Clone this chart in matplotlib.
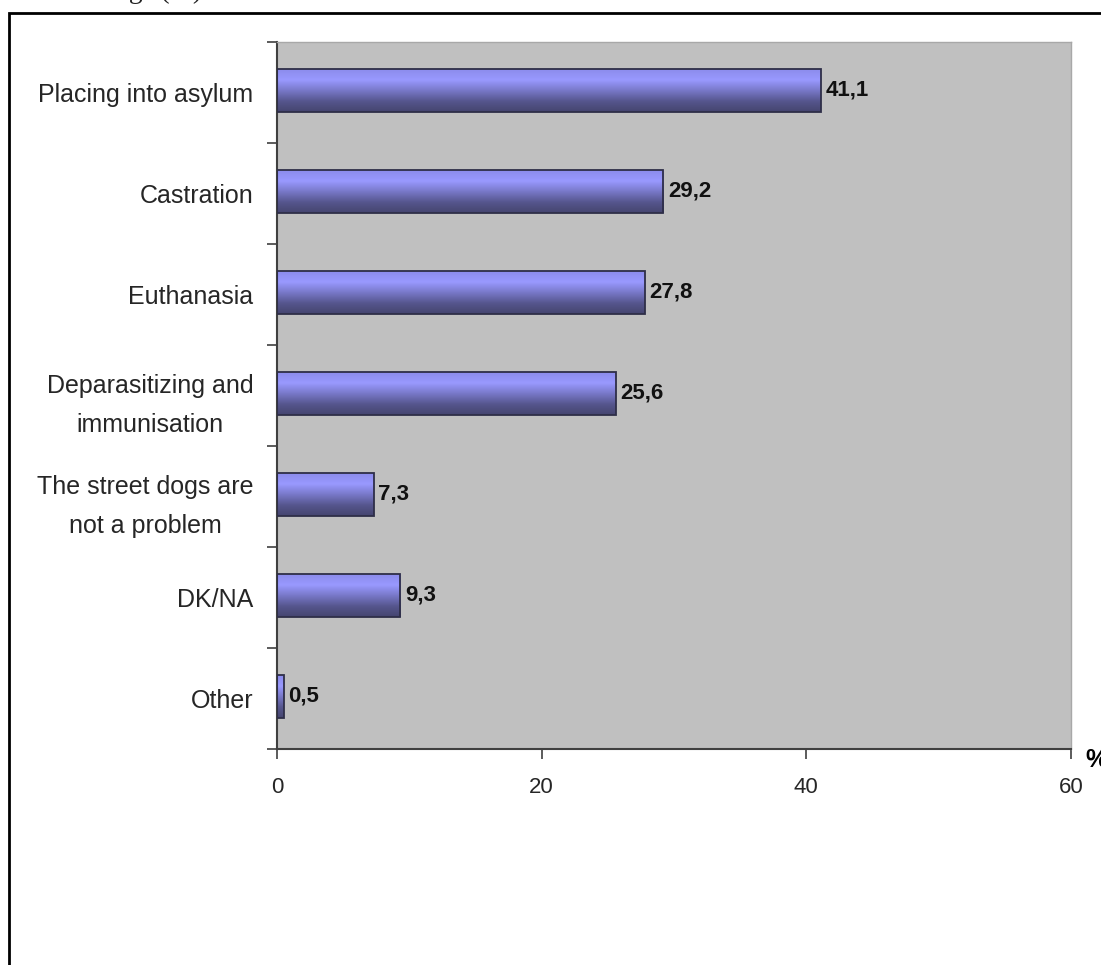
import matplotlib.pyplot as plt
import numpy as np
from matplotlib.colors import LinearSegmentedColormap
from matplotlib.patches import Rectangle

categories = ["Placing into asylum", "Castration", "Euthanasia",
              "Deparasitizing and\nimmunisation",
              "The street dogs are\nnot a problem", "DK/NA", "Other"]
values = [41.1, 29.2, 27.8, 25.6, 7.3, 9.3, 0.5]
value_labels = ["41,1", "29,2", "27,8", "25,6", "7,3", "9,3", "0,5"]
x_ticks = [0, 20, 40, 60]

W, H = 1101, 965
fig = plt.figure(figsize=(W / 100, H / 100), dpi=100)
plt.rcParams['font.family'] = ['Liberation Sans', 'DejaVu Sans']

# outer frame, runs off the right and bottom edges
fig.patches.append(Rectangle((9 / W, -0.1), 1.2, 1 - 13 / H + 0.1,
                             transform=fig.transFigure, fill=False,
                             edgecolor='black', linewidth=2))
# caption line above the frame, mostly cut off
fig.text(202 / W, 1 + 1.5 / H, "Opinions on the problem with street dogs (%)",
         ha='right', va='baseline', fontsize=20, family='Liberation Serif',
         color='#222222')

ax = fig.add_axes([277 / W, 216 / H, 794 / W, 707 / H])
ax.set_facecolor('#C0C0C0')

cmap = LinearSegmentedColormap.from_list(
    'bar', ['#8C8CEC', '#9999FF', '#7878C8', '#56568E', '#45456F'])
grad = np.linspace(0, 1, 64).reshape(-1, 1)
bar_h = 0.42
for i, (v, lab) in enumerate(zip(values, value_labels)):
    yc = i + 0.48
    ax.imshow(grad, cmap=cmap, aspect='auto', interpolation='bilinear',
              extent=(0, v, yc + bar_h / 2, yc - bar_h / 2), zorder=2)
    ax.add_patch(Rectangle((0, yc - bar_h / 2), v, bar_h, fill=False,
                           edgecolor='#2E2E48', linewidth=1.3, zorder=3))
    ax.annotate(lab, (v, yc), xytext=(3.5, 0), textcoords='offset points',
                ha='left', va='center', fontsize=16, fontweight='bold',
                color='#111111')
ax.set_xlim(0, 60)
ax.set_ylim(len(categories), 0)

ax.set_yticks(range(len(categories) + 1))
ax.set_yticklabels([])
ax.set_yticks([i + 0.5 for i in range(len(categories))], minor=True)
ax.set_yticklabels(categories, minor=True, fontsize=18, color='#262626',
                   multialignment='center', linespacing=1.8)
ax.tick_params(axis='y', which='minor', length=0, pad=17)
ax.tick_params(axis='y', which='major', length=7, width=1.2, color='#404040')

ax.set_xticks(x_ticks)
ax.set_xticklabels([str(t) for t in x_ticks], fontsize=16, color='#262626')
ax.tick_params(axis='x', length=7, width=1.2, color='#404040', pad=13)

for side in ['left', 'bottom']:
    ax.spines[side].set_color('#404040')
    ax.spines[side].set_linewidth(1.5)
for side in ['top', 'right']:
    ax.spines[side].set_color('#A8A8A8')
    ax.spines[side].set_linewidth(1)

fig.text(1085 / W, 1 - 760 / H, "%", ha='left', va='center', fontsize=18,
         fontweight='bold', color='black')

fig.savefig('out.png', dpi=100)
